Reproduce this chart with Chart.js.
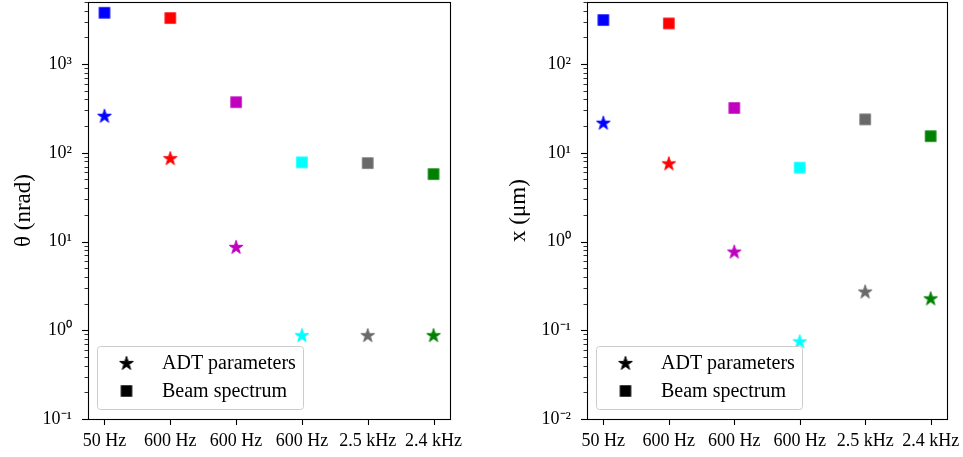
<!DOCTYPE html>
<html>
<head>
<meta charset="utf-8">
<script src="https://cdn.jsdelivr.net/npm/chart.js@4/dist/chart.umd.min.js"></script>
<style>
  html, body { margin: 0; padding: 0; background: #fff; }
  #wrap { position: relative; width: 963px; height: 457px; overflow: hidden; }
  #c1 { position: absolute; left: 0; top: -6px; }
  #c2 { position: absolute; left: 481px; top: -6px; }
</style>
</head>
<body>
<div id="wrap">
  <canvas id="c1" width="481" height="463"></canvas>
  <canvas id="c2" width="482" height="463"></canvas>
</div>
<script>
// ---- data ----
const categories = ['50 Hz', '600 Hz', '600 Hz', '600 Hz', '2.5 kHz', '2.4 kHz'];
const markerColors = ['#0000ff', '#ff0000', '#bf00bf', '#00ffff', '#696969', '#008000'];
const seriesLabels = ['ADT parameters', 'Beam spectrum'];
const thetaADT  = [261, 87, 8.7, 0.88, 0.88, 0.88];
const thetaBeam = [3780, 3300, 372, 78, 76.5, 57.5];
const xADT      = [21.8, 7.6, 0.77, 0.075, 0.273, 0.229];
const xBeam     = [313, 287, 32, 6.8, 23.8, 15.4];
const thetaTitle = 'θ (nrad)';
const xTitle = 'x (μm)';

const FONT = '"Liberation Serif", "Times New Roman", serif';

// ---- marker images ----
function starImage(color) {
  const c = document.createElement('canvas');
  c.width = 18; c.height = 18;
  const g = c.getContext('2d');
  const R = 7.2, r = R * 0.381966, cx = 9, cy = 9.6;
  g.beginPath();
  for (let i = 0; i < 10; i++) {
    const rad = (i % 2 === 0) ? R : r;
    const a = -Math.PI / 2 + i * Math.PI / 5;
    const px = cx + rad * Math.cos(a), py = cy + rad * Math.sin(a);
    if (i === 0) g.moveTo(px, py); else g.lineTo(px, py);
  }
  g.closePath();
  g.fillStyle = color; g.fill();
  g.lineWidth = 1; g.strokeStyle = color; g.lineJoin = 'miter'; g.stroke();
  return c;
}
function squareImage(color) {
  const c = document.createElement('canvas');
  c.width = 14; c.height = 14;
  const g = c.getContext('2d');
  g.fillStyle = color;
  g.fillRect(1.25, 1.25, 11.5, 11.5);
  return c;
}
const starImgs = markerColors.map(starImage);
const squareImgs = markerColors.map(squareImage);
const blackStar = starImage('#000000');
const blackSquare = squareImage('#000000');

const SUP = {'0':'⁰','1':'¹','2':'²','3':'³','4':'⁴','5':'⁵','6':'⁶','7':'⁷','8':'⁸','9':'⁹','-':'⁻'};
function decadeLabel(v) {
  const e = Math.log10(v);
  const re = Math.round(e);
  if (Math.abs(e - re) > 1e-6) return '';
  return '10' + String(re).split('').map(ch => SUP[ch]).join('');
}

// ---- plugin: frame, tick marks, legend ----
const decorPlugin = {
  id: 'decor',
  afterDraw(chart) {
    const ctx = chart.ctx;
    const a = chart.chartArea;
    const ys = chart.scales.y, xs = chart.scales.x;
    ctx.save();
    ctx.strokeStyle = '#000';
    // y ticks
    ys.ticks.forEach(t => {
      const py = Math.round(ys.getPixelForValue(t.value)) + 0.5;
      const major = decadeLabel(t.value) !== '';
      ctx.lineWidth = major ? 1.1 : 0.8;
      ctx.beginPath();
      ctx.moveTo(a.left, py);
      ctx.lineTo(a.left - (major ? 6 : 3.5), py);
      ctx.stroke();
    });
    // x ticks
    xs.ticks.forEach(t => {
      const px = Math.round(xs.getPixelForValue(t.value)) + 0.5;
      ctx.lineWidth = 1.1;
      ctx.beginPath();
      ctx.moveTo(px, a.bottom);
      ctx.lineTo(px, a.bottom + 6);
      ctx.stroke();
    });
    // frame
    ctx.lineWidth = 1.1;
    ctx.strokeRect(Math.round(a.left) + 0.5, Math.round(a.top) + 0.5,
                   Math.round(a.right - a.left), Math.round(a.bottom - a.top));
    // legend
    const lx = a.left + 9.5, lw = 206, lh = 63;
    const ly = a.bottom - 9.5 - lh;
    const rr = 3;
    ctx.beginPath();
    ctx.moveTo(lx + rr, ly);
    ctx.lineTo(lx + lw - rr, ly);
    ctx.quadraticCurveTo(lx + lw, ly, lx + lw, ly + rr);
    ctx.lineTo(lx + lw, ly + lh - rr);
    ctx.quadraticCurveTo(lx + lw, ly + lh, lx + lw - rr, ly + lh);
    ctx.lineTo(lx + rr, ly + lh);
    ctx.quadraticCurveTo(lx, ly + lh, lx, ly + lh - rr);
    ctx.lineTo(lx, ly + rr);
    ctx.quadraticCurveTo(lx, ly, lx + rr, ly);
    ctx.closePath();
    ctx.fillStyle = 'rgba(255,255,255,0.8)';
    ctx.fill();
    ctx.strokeStyle = '#cccccc';
    ctx.lineWidth = 1;
    ctx.stroke();
    const icons = [blackStar, blackSquare];
    const rows = [ly + 16.5, ly + 44.5];
    ctx.fillStyle = '#000';
    ctx.font = '20px ' + FONT;
    ctx.textBaseline = 'middle';
    ctx.textAlign = 'left';
    chart.data.datasets.forEach((ds, i) => {
      const img = icons[i];
      ctx.drawImage(img, lx + 29 - img.width / 2, rows[i] - img.height / 2);
      ctx.fillText(ds.label, lx + 64.5, rows[i] + 1);
    });
    ctx.restore();
  }
};

function makeChart(canvasId, adt, beam, yMin, yMax, title, yAxisWidth, titlePad, rightPad) {
  const toPts = arr => arr.map((v, i) => ({x: i, y: v}));
  return new Chart(document.getElementById(canvasId), {
    type: 'scatter',
    data: {
      datasets: [
        { label: seriesLabels[0], data: toPts(adt),
          pointStyle: c => starImgs[c.dataIndex], pointRadius: 7, pointHoverRadius: 7,
          backgroundColor: markerColors, borderColor: markerColors },
        { label: seriesLabels[1], data: toPts(beam),
          pointStyle: c => squareImgs[c.dataIndex], pointRadius: 7, pointHoverRadius: 7,
          backgroundColor: markerColors, borderColor: markerColors }
      ]
    },
    options: {
      responsive: false,
      animation: false,
      events: [],
      layout: { padding: { top: 2, right: rightPad, bottom: 0, left: 0 } },
      plugins: { legend: { display: false }, tooltip: { enabled: false } },
      scales: {
        x: {
          type: 'linear', min: -0.25, max: 5.25,
          afterBuildTicks: s => { s.ticks = categories.map((c, i) => ({ value: i })); },
          afterFit: s => { s.height = 38; s.paddingLeft = 0; s.paddingRight = 0; },
          grid: { display: false, drawTicks: false },
          border: { display: false },
          ticks: {
            autoSkip: false, maxRotation: 0, padding: 11, color: '#000',
            font: { family: FONT, size: 18 },
            callback: v => categories[v]
          }
        },
        y: {
          type: 'logarithmic', min: yMin, max: yMax,
          afterBuildTicks: s => {
            const t = [];
            const e0 = Math.floor(Math.log10(yMin)), e1 = Math.ceil(Math.log10(yMax));
            for (let e = e0; e <= e1; e++) {
              for (let m = 1; m <= 9; m++) {
                const v = m * Math.pow(10, e);
                if (v >= yMin * 0.999 && v <= yMax * 1.001) t.push({ value: v });
              }
            }
            s.ticks = t;
          },
          afterFit: s => { s.width = yAxisWidth; s.paddingTop = 0; s.paddingBottom = 0; },
          grid: { display: false, drawTicks: false },
          border: { display: false },
          ticks: {
            autoSkip: false, padding: 16, color: '#000',
            font: { family: FONT, size: 18 },
            callback: v => decadeLabel(v)
          },
          title: {
            display: true, text: title, color: '#000',
            font: { family: FONT, size: 23 },
            padding: { top: titlePad, bottom: 0 }
          }
        }
      }
    },
    plugins: [decorPlugin]
  });
}

makeChart('c1', thetaADT, thetaBeam, 0.1, 5000, thetaTitle, 88, 10, 31);
makeChart('c2', xADT, xBeam, 0.01, 500, xTitle, 106, 24, 16);
</script>
</body>
</html>
